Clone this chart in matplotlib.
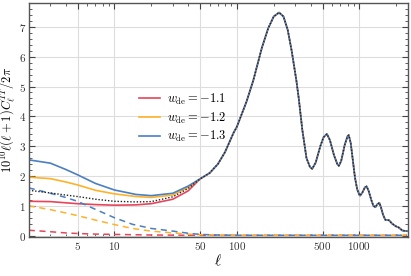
import numpy as np
from matplotlib import pyplot as plt
from matplotlib.ticker import FixedLocator, NullFormatter, LogLocator, MultipleLocator

plt.rcParams['mathtext.fontset'] = 'cm'
plt.rcParams['font.family'] = 'serif'
plt.rcParams['font.serif'] = ['DejaVu Serif']

# low-l part of the total spectrum, one per model
ell_low = [2, 3, 4, 5, 7, 10, 15, 20, 30, 40]
tt_lcdm_low = [1.52, 1.43, 1.36, 1.31, 1.22, 1.15, 1.13, 1.14, 1.30, 1.58]
tt_m11_low = [1.15, 1.14, 1.10, 1.07, 1.04, 1.02, 1.03, 1.07, 1.22, 1.50]
tt_m12_low = [1.96, 1.91, 1.80, 1.70, 1.52, 1.40, 1.31, 1.28, 1.36, 1.62]
tt_m13_low = [2.54, 2.43, 2.22, 2.04, 1.75, 1.53, 1.38, 1.34, 1.42, 1.66]

# acoustic part, shared by all models
ell_high = [50, 60, 70, 80, 94, 100, 120, 136, 160, 180, 200, 221, 240, 260, 280,
            306, 320, 342, 370, 395, 412, 440, 480, 510, 543, 575, 620, 660, 680,
            710, 760, 800, 819, 850, 880, 920, 960, 1000, 1013, 1060, 1110, 1146,
            1190, 1250, 1300, 1349, 1400, 1455, 1500, 1560, 1627, 1700, 1750, 1850,
            1990, 2100, 2240, 2450]
tt_high = [1.90, 2.10, 2.40, 2.80, 3.45, 3.65, 4.50, 5.20, 6.30, 6.95, 7.35, 7.48,
           7.35, 6.90, 6.20, 5.20, 4.60, 3.55, 2.60, 2.30, 2.24, 2.45, 3.00, 3.30,
           3.41, 3.20, 2.70, 2.40, 2.34, 2.50, 3.05, 3.33, 3.37, 3.10, 2.60, 1.95,
           1.55, 1.37, 1.34, 1.45, 1.62, 1.65, 1.50, 1.20, 1.00, 0.95, 1.05, 1.10,
           0.95, 0.70, 0.53, 0.52, 0.51, 0.40, 0.31, 0.27, 0.17, 0.15]

# ISW-like dashed contributions
ell_isw = [2, 3, 4, 5, 7, 10, 14, 20, 30, 40, 50, 70, 100, 2450]
isw_m11 = [0.18, 0.13, 0.09, 0.07, 0.05, 0.04, 0.03, 0.02, 0.015, 0.012, 0.01, 0.01, 0.01, 0.01]
isw_m12 = [1.00, 0.87, 0.76, 0.67, 0.52, 0.37, 0.24, 0.15, 0.09, 0.05, 0.03, 0.015, 0.01, 0.01]
isw_m13 = [1.60, 1.42, 1.28, 1.15, 0.88, 0.60, 0.38, 0.24, 0.15, 0.08, 0.04, 0.02, 0.01, 0.01]

labels = [r'$w_{\rm de}=-1.1$', r'$w_{\rm de}=-1.2$', r'$w_{\rm de}=-1.3$']
colors = ['#e8455a', '#fdb22a', '#4a7fc0']

ell = ell_low + ell_high
fig = plt.figure(figsize=(4.11, 2.76), dpi=100)
ax = fig.add_axes([0.07, 0.141, 0.923, 0.848])

for low, isw, c, lab in zip([tt_m11_low, tt_m12_low, tt_m13_low],
                            [isw_m11, isw_m12, isw_m13], colors, labels):
    ax.plot(ell, low + tt_high, color=c, lw=1.2, label=lab)
    ax.plot(ell_isw, isw, color=c, lw=1.1, ls=(0, (4, 3)))
ax.plot(ell, tt_lcdm_low + tt_high, color='#222222', lw=1.0, ls=(0, (1, 1.3)))

ax.set_xscale('log')
ax.set_xlim(2, 2500)
ax.set_ylim(-0.05, 7.8)
ticks = [5, 10, 50, 100, 500, 1000]
ax.xaxis.set_major_locator(FixedLocator(ticks))
ax.set_xticklabels(['$%d$' % t for t in ticks])
ax.xaxis.set_minor_locator(LogLocator(base=10, subs=np.arange(2, 10)))
ax.xaxis.set_minor_formatter(NullFormatter())
ax.yaxis.set_minor_locator(MultipleLocator(0.2))
ax.set_yticks(range(8))
ax.set_yticklabels(['$%d$' % i for i in range(8)])

ax.tick_params(which='both', direction='in', top=True, right=True,
               labelsize=8, colors='#444444', labelcolor='#333333', pad=2)
ax.tick_params(which='major', length=4, width=0.8)
ax.tick_params(which='minor', length=2, width=0.6)
for s in ax.spines.values():
    s.set_color('#555555')
    s.set_linewidth(1.0)
ax.grid(True, which='major', color='#dddddd', lw=0.8)
ax.set_axisbelow(True)

ax.set_xlabel(r'$\ell$', fontsize=11, labelpad=1)
ax.set_ylabel(r'$10^{10}\ell(\ell+1)C_\ell^{TT}/2\pi$', fontsize=9)
ax.yaxis.set_label_coords(-0.03, 0.5)

ax.legend(loc='upper left', bbox_to_anchor=(0.26, 0.67), frameon=False,
          fontsize=9, handlelength=1.7, handletextpad=0.6, labelspacing=0.3)

fig.savefig('out.png', dpi=100)
